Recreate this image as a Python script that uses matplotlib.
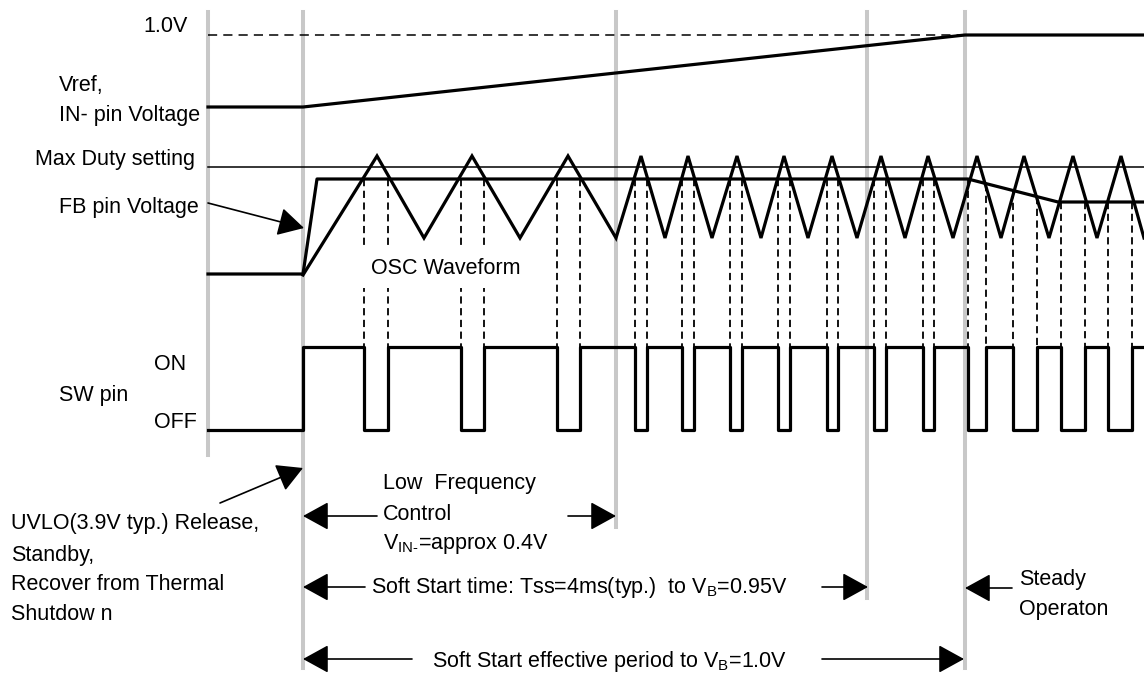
import matplotlib
matplotlib.use("Agg")
import matplotlib.pyplot as plt
import numpy as np

plt.rcParams['font.family'] = ['Liberation Sans', 'DejaVu Sans']
plt.rcParams['mathtext.fontset'] = 'custom'
plt.rcParams['mathtext.rm'] = 'Liberation Sans'
plt.rcParams['mathtext.default'] = 'regular'

""" diagram units: x = time (px), y = level (px, grows downward) """
# gray timing markers
mark_t = [208, 303, 616, 867, 965]
mark_bottom = [455, 668, 527, 598, 668]
mark_top = 12

# fixed levels
y_1v = 35
y_max_duty = 167
y_sw_on = 347
y_sw_off = 430

# Vref, IN- pin voltage
vref_t = [208, 303, 965, 1144]
vref_y = [107, 107, 35, 35]

# FB pin voltage
fb_t = [208, 303, 317, 968, 1058, 1144]
fb_y = [274, 274, 179, 179, 202, 202]

# OSC waveform corners
osc_peak = 156
osc_trough = 238
osc_t = [303, 377, 424, 472, 520, 568, 616, 641, 665, 688, 712, 737, 761, 784,
         808, 832, 857, 881, 905, 928, 953, 977, 1001, 1024, 1049, 1073, 1097,
         1121, 1144]
osc_y = [275] + [osc_peak, osc_trough] * 14

# SW pin OFF pulses
sw_off_start = [364, 461, 557, 635, 682, 730, 778, 827, 874, 923, 968, 1013, 1061, 1108]
sw_off_end = [388, 484, 580, 647, 694, 742, 790, 838, 886, 934, 986, 1037, 1085, 1132]

# labels: (x, y, text)
labels = [
    (143, 25, "1.0V"),
    (59, 83, "Vref,"),
    (59, 114, "IN- pin Voltage"),
    (35, 158, "Max Duty setting"),
    (59, 205, "FB pin Voltage"),
    (154, 362, "ON"),
    (59, 393, "SW pin"),
    (154, 421, "OFF"),
    (11, 522, "UVLO(3.9V typ.) Release,"),
    (11, 553, "Standby,"),
    (11, 582, "Recover from Thermal"),
    (11, 612, "Shutdow n"),
    (383, 482, "Low  Frequency"),
    (383, 513, "Control"),
    (383, 542, r"V$_{IN\text{-}}$=approx 0.4V"),
    (371, 586, r"Soft Start time: Tss=4ms(typ.)  to V$_B$=0.95V"),
    (1019, 578, "Steady"),
    (1019, 608, "Operaton"),
    (432, 660, r"Soft Start effective period to V$_B$=1.0V"),
]

# arrows: (tail, head)
arrows = [
    ((208, 203), (304, 228)),
    ((220, 503), (303, 468)),
    ((377, 516), (303, 516)),
    ((568, 516), (616, 516)),
    ((365, 587), (303, 587)),
    ((822, 587), (868, 587)),
    ((1012, 588), (965, 588)),
    ((1133, 588), (1166, 588)),
    ((412, 659), (303, 659)),
    ((822, 659), (964, 659)),
]

fig = plt.figure(figsize=(11.44, 6.74), dpi=100)
ax = fig.add_axes([0, 0, 1, 1])
ax.set_xlim(0, 1144)
ax.set_ylim(674, 0)
ax.axis('off')

# gray markers
for t, yb in zip(mark_t, mark_bottom):
    ax.plot([t, t], [mark_top, yb], color='#c8c8c8', lw=2.9, zorder=1)

# 1.0V dashed and max duty lines
ax.plot([208, 965], [y_1v, y_1v], color='k', lw=1.1, ls=(0, (6, 4)), zorder=2)
ax.plot([208, 1144], [y_max_duty, y_max_duty], color='k', lw=1.1, zorder=2)

# Vref
ax.plot(vref_t, vref_y, color='k', lw=2.3, zorder=3)
# FB
ax.plot(fb_t, fb_y, color='k', lw=2.3, zorder=3)
# OSC
ax.plot(osc_t, osc_y, color='k', lw=2.3, zorder=3, solid_joinstyle='miter')

# SW pin
sw_x = [208, 303, 303]
sw_y = [y_sw_off, y_sw_off, y_sw_on]
for s, e in zip(sw_off_start, sw_off_end):
    sw_x += [s, s, e, e]
    sw_y += [y_sw_on, y_sw_off, y_sw_off, y_sw_on]
sw_x.append(1144)
sw_y.append(y_sw_on)
ax.plot(sw_x, sw_y, color='k', lw=2.3, zorder=3, solid_joinstyle='round')

# dashed edge markers from FB to SW
for t in sw_off_start + sw_off_end:
    ytop = np.interp(t, fb_t, fb_y)
    ax.plot([t, t], [ytop, y_sw_on], color='k', lw=1.3, ls=(0, (4, 2.5)), zorder=2)

# OSC label masks the dashes it sits on
ax.text(371, 268, "OSC Waveform", fontsize=15.5, ha='left', va='center', zorder=4,
        bbox=dict(boxstyle='square,pad=0.42', fc='white', ec='none'))

# text centres were read from glyph bodies, nudge down a bit
for x, y, s in labels:
    ax.text(x, y + 2, s, fontsize=15.5, ha='left', va='center', zorder=4)

for tail, head in arrows:
    ax.annotate('', xy=head, xytext=tail, zorder=5,
                arrowprops=dict(arrowstyle='-|>,head_length=0.4,head_width=0.22',
                                mutation_scale=40, lw=1.2, color='k',
                                shrinkA=0, shrinkB=0))

fig.savefig('out.png', dpi=100)
